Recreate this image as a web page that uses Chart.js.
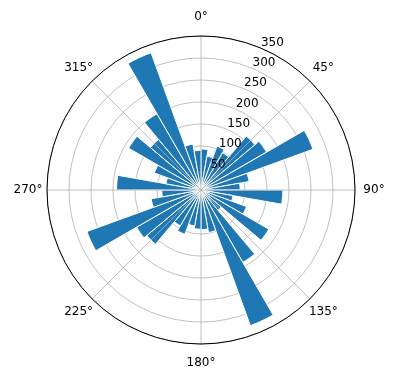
<!DOCTYPE html>
<html>
<head>
<meta charset="utf-8">
<script src="https://cdn.jsdelivr.net/npm/chart.js@4.4.1/dist/chart.umd.min.js"></script>
<style>
  body { margin: 0; background: #fff; }
  #wrap { width: 396px; height: 380px; }
</style>
</head>
<body>
<div id="wrap"><canvas id="chart" width="396" height="380"></canvas></div>
<script>
// bins of 10 degrees, clockwise from north
const binStarts = [0, 10, 20, 30, 40, 50, 60, 70, 80, 90, 100, 110,
  120, 130, 140, 150, 160, 170, 180, 190, 200, 210, 220, 230,
  240, 250, 260, 270, 280, 290, 300, 310, 320, 330, 340, 350];
const counts = [93, 78, 106, 98, 160, 172, 271, 111, 89, 186, 74, 110,
  178, 60, 190, 328, 98, 90, 89, 83, 107, 94, 161, 169,
  276, 115, 89, 192, 81, 113, 190, 150, 200, 332, 106, 90];
const radialTicks = [50, 100, 150, 200, 250, 300, 350];
const angleTicks = [0, 45, 90, 135, 180, 225, 270, 315];
const angleLabels = ["0°", "45°", "90°", "135°", "180°", "225°", "270°", "315°"];

const FONT = "12px 'DejaVu Sans'";

// matplotlib-style theta lines, r labels and theta labels
const polarFrame = {
  id: "polarFrame",
  afterDraw(chart) {
    const sc = chart.scales.r;
    const ctx = chart.ctx;
    const cx = sc.xCenter, cy = sc.yCenter;
    const R = sc.getDistanceFromCenterForValue(350);
    ctx.save();
    ctx.strokeStyle = "#b0b0b0";
    ctx.lineWidth = 0.8;
    angleTicks.forEach(a => {
      const t = a * Math.PI / 180;
      ctx.beginPath();
      ctx.moveTo(cx, cy);
      ctx.lineTo(cx + R * Math.sin(t), cy - R * Math.cos(t));
      ctx.stroke();
    });
    ctx.strokeStyle = "#000";
    ctx.lineWidth = 1;
    ctx.beginPath();
    ctx.arc(cx, cy, R, 0, 2 * Math.PI);
    ctx.stroke();

    ctx.fillStyle = "#000";
    ctx.font = FONT;
    ctx.textAlign = "left";
    ctx.textBaseline = "bottom";
    const lt = 22.5 * Math.PI / 180;
    radialTicks.forEach(v => {
      const d = sc.getDistanceFromCenterForValue(v);
      ctx.fillText(String(v), cx + d * Math.sin(lt) + 1, cy - d * Math.cos(lt) + 1);
    });

    ctx.textAlign = "center";
    ctx.textBaseline = "middle";
    angleTicks.forEach((a, i) => {
      const t = a * Math.PI / 180;
      const d = R + 19;
      ctx.fillText(angleLabels[i], cx + d * Math.sin(t), cy - d * Math.cos(t));
    });
    ctx.restore();
  }
};

new Chart(document.getElementById("chart"), {
  type: "polarArea",
  data: {
    labels: binStarts.map(b => b + "°"),
    datasets: [{
      data: counts,
      backgroundColor: "#1f77b4",
      borderColor: "#ffffff",
      borderWidth: 1
    }]
  },
  options: {
    responsive: false,
    animation: false,
    startAngle: 0,
    layout: { padding: { left: 47, right: 41, top: 36, bottom: 36 } },
    plugins: {
      legend: { display: false },
      tooltip: { enabled: false }
    },
    scales: {
      r: {
        min: 0,
        max: 350,
        z: 1,
        ticks: { display: false, stepSize: 50 },
        pointLabels: { display: false },
        angleLines: { display: false },
        grid: {
          circular: true,
          color: "#b0b0b0",
          lineWidth: 0.8
        }
      }
    }
  },
  plugins: [polarFrame]
});
</script>
</body>
</html>
